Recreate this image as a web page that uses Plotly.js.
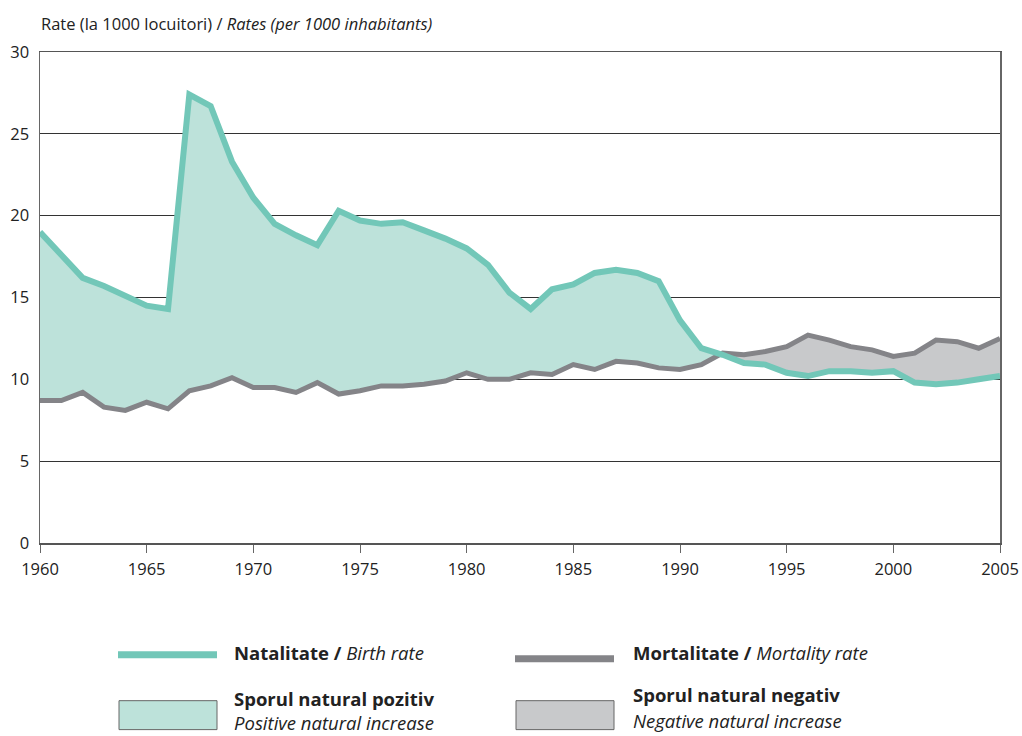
<!DOCTYPE html>
<html>
<head>
<meta charset="utf-8">
<script src="https://cdn.plot.ly/plotly-3.0.1.min.js"></script>
<style>html,body{margin:0;padding:0;background:#fff;}#chart{width:1022px;height:736px;}</style>
</head>
<body>
<div id="chart"></div>
<script>
var years = [1960,1961,1962,1963,1964,1965,1966,1967,1968,1969,1970,1971,1972,1973,1974,1975,1976,1977,1978,1979,1980,1981,1982,1983,1984,1985,1986,1987,1988,1989,1990,1991,1992,1993,1994,1995,1996,1997,1998,1999,2000,2001,2002,2003,2004,2005];
var birthRate = [19.0,17.6,16.2,15.7,15.1,14.5,14.3,27.4,26.7,23.3,
                 21.1,19.5,18.8,18.2,20.3,19.7,19.5,19.6,19.1,18.6,
                 18.0,17.0,15.3,14.3,15.5,15.8,16.5,16.7,16.5,16.0,
                 13.6,11.9,11.5,11.0,10.9,10.4,10.2,10.5,10.5,10.4,
                 10.5,9.8,9.7,9.8,10.0,10.2];
var deathRate = [8.7,8.7,9.2,8.3,8.1,8.6,8.2,9.3,9.6,10.1,
                 9.5,9.5,9.2,9.8,9.1,9.3,9.6,9.6,9.7,9.9,
                 10.4,10.0,10.0,10.4,10.3,10.9,10.6,11.1,11.0,10.7,
                 10.6,10.9,11.6,11.5,11.7,12.0,12.7,12.4,12.0,11.8,
                 11.4,11.6,12.4,12.3,11.9,12.5];
var xTicks = [1960,1965,1970,1975,1980,1985,1990,1995,2000,2005];
var yTicks = [0,5,10,15,20,25,30];

// augmented arrays with crossing points for the fills
var X = [], B = [], D = [];
for (var i = 0; i < years.length; i++) {
  X.push(years[i]); B.push(birthRate[i]); D.push(deathRate[i]);
  if (i < years.length - 1) {
    var d0 = birthRate[i] - deathRate[i], d1 = birthRate[i+1] - deathRate[i+1];
    if (d0 * d1 < 0) {
      var t = d0 / (d0 - d1);
      var v = birthRate[i] + t * (birthRate[i+1] - birthRate[i]);
      X.push(years[i] + t); B.push(v); D.push(v);
    }
  }
}
var upper = X.map(function(_, k){ return Math.max(B[k], D[k]); });

var TEAL = '#72c7b8', TEAL_FILL = '#bde2da', GREY = '#848488', GREY_FILL = '#c8c9cb';

var traces = [
  {x: X, y: D, mode: 'lines', line: {width: 0, color: GREY}, hoverinfo: 'skip', showlegend: false},
  {x: X, y: upper, mode: 'lines', fill: 'tonexty', fillcolor: TEAL_FILL, line: {width: 0, color: TEAL}, hoverinfo: 'skip', showlegend: false},
  {x: X, y: B, mode: 'lines', line: {width: 0, color: TEAL}, hoverinfo: 'skip', showlegend: false},
  {x: X, y: upper, mode: 'lines', fill: 'tonexty', fillcolor: GREY_FILL, line: {width: 0, color: GREY}, hoverinfo: 'skip', showlegend: false},
  {x: years, y: deathRate, mode: 'lines', line: {width: 5, color: GREY}, name: 'Mortalitate', showlegend: false},
  {x: years, y: birthRate, mode: 'lines', line: {width: 6, color: TEAL}, name: 'Natalitate', showlegend: false}
];

function px(xp){ return (xp - 40) / 960; }
function py(yp){ return (543 - yp) / 492; }

var FONT = 'Open Sans, DejaVu Sans, sans-serif';
var LEG = 18.5;
var shapes = [
  {type: 'line', xref: 'paper', yref: 'paper', x0: px(118), x1: px(217), y0: py(655), y1: py(655), line: {color: TEAL, width: 7}},
  {type: 'line', xref: 'paper', yref: 'paper', x0: px(515), x1: px(614), y0: py(659), y1: py(659), line: {color: GREY, width: 7}},
  {type: 'rect', xref: 'paper', yref: 'paper', x0: px(119), x1: px(217), y0: py(730), y1: py(701), fillcolor: TEAL_FILL, line: {color: '#666', width: 1}},
  {type: 'rect', xref: 'paper', yref: 'paper', x0: px(516), x1: px(614), y0: py(730), y1: py(701), fillcolor: GREY_FILL, line: {color: '#666', width: 1}}
];
var annotations = [
  {xref: 'paper', yref: 'paper', x: px(39), y: py(22), xanchor: 'left', yanchor: 'middle', showarrow: false,
   text: 'Rate (la 1000 locuitori) / <i>Rates (per 1000 inhabitants)</i>', font: {family: FONT, size: 16.5, color: '#222'}},
  {xref: 'paper', yref: 'paper', x: px(232), y: py(653), xanchor: 'left', yanchor: 'middle', showarrow: false,
   text: '<b>Natalitate /</b> <i>Birth rate</i>', font: {family: FONT, size: LEG, color: '#222'}},
  {xref: 'paper', yref: 'paper', x: px(631), y: py(653), xanchor: 'left', yanchor: 'middle', showarrow: false,
   text: '<b>Mortalitate /</b> <i>Mortality rate</i>', font: {family: FONT, size: LEG, color: '#222'}},
  {xref: 'paper', yref: 'paper', x: px(232), y: py(699), xanchor: 'left', yanchor: 'middle', showarrow: false,
   text: '<b>Sporul natural pozitiv</b>', font: {family: FONT, size: LEG, color: '#222'}},
  {xref: 'paper', yref: 'paper', x: px(232), y: py(723), xanchor: 'left', yanchor: 'middle', showarrow: false,
   text: '<i>Positive natural increase</i>', font: {family: FONT, size: LEG, color: '#222'}},
  {xref: 'paper', yref: 'paper', x: px(631), y: py(695), xanchor: 'left', yanchor: 'middle', showarrow: false,
   text: '<b>Sporul natural negativ</b>', font: {family: FONT, size: LEG, color: '#222'}},
  {xref: 'paper', yref: 'paper', x: px(631), y: py(721), xanchor: 'left', yanchor: 'middle', showarrow: false,
   text: '<i>Negative natural increase</i>', font: {family: FONT, size: LEG, color: '#222'}}
];

var layout = {
  width: 1022, height: 736,
  margin: {l: 40, r: 22, t: 52, b: 193, pad: 0},
  paper_bgcolor: '#fff', plot_bgcolor: '#fff',
  showlegend: false,
  font: {family: FONT, size: 16.5, color: '#222'},
  xaxis: {
    range: [1960, 2005], tickvals: xTicks, ticktext: xTicks.map(String),
    showgrid: false, zeroline: false,
    showline: true, linecolor: '#555', linewidth: 1.5, mirror: true,
    ticks: 'outside', ticklen: 8, tickcolor: '#666', tickwidth: 1, ticklabelstandoff: 3,
    tickfont: {family: FONT, size: 16.5, color: '#222'}
  },
  yaxis: {
    range: [0, 30], tickvals: yTicks, ticktext: yTicks.map(String),
    showgrid: true, gridcolor: '#333', gridwidth: 1, zeroline: false,
    showline: true, linecolor: '#666', linewidth: 1.5, mirror: true,
    ticks: '', ticklabelstandoff: 6, tickfont: {family: FONT, size: 16.5, color: '#222'}
  },
  shapes: shapes,
  annotations: annotations
};

Plotly.newPlot('chart', traces, layout, {staticPlot: true, displayModeBar: false});
</script>
</body>
</html>
